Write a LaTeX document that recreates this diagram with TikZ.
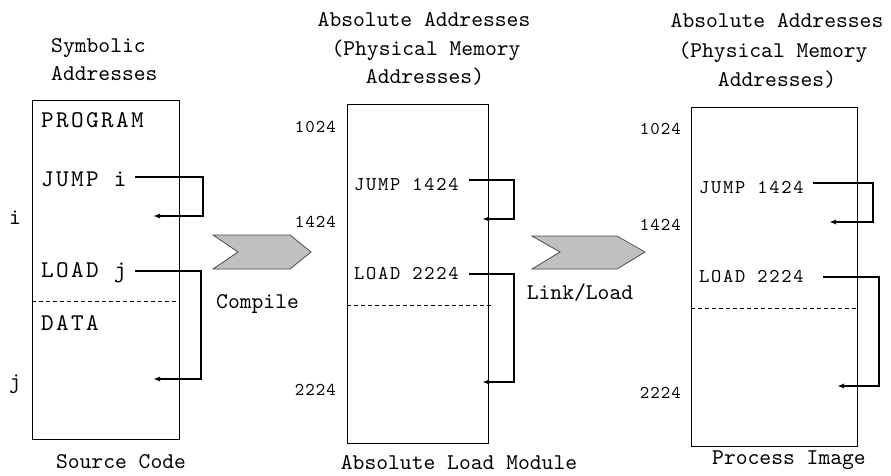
\documentclass[tikz,border=0pt]{standalone}
\usepackage{fontspec}
\usetikzlibrary{arrows.meta}
\newfontfamily\diagmono{lmmono10-regular.otf}
\newfontfamily\diagwide{lmmono10-regular.otf}[LetterSpace=10]
\newfontfamily\diagcode{lmmono10-regular.otf}[LetterSpace=9]
\newfontfamily\diagaddr{lmmono10-regular.otf}[LetterSpace=6]
\definecolor{chevgray}{RGB}{192,192,192}
\begin{document}
\begin{tikzpicture}[x=1pt,y=-1pt,
  title/.style={font=\diagmono\fontsize{22.5}{26}\selectfont, inner sep=0pt, anchor=base},
  titleleft/.style={title, anchor=base west},
  codeA/.style={font=\diagwide\fontsize{24}{28}\selectfont, inner sep=0pt, anchor=base west},
  codeB/.style={font=\diagcode\fontsize{19.5}{23}\selectfont, inner sep=0pt, anchor=base west},
  addr/.style={font=\diagaddr\fontsize{18}{21}\selectfont, inner sep=0pt, anchor=base east},
  mem/.style={draw, line width=1pt, inner sep=0pt, minimum height=339pt},
  split/.style={dashed, line width=0.9pt, dash pattern=on 4pt off 3pt},
  ref/.style={line width=1.6pt, -{Latex[length=7pt,width=5pt]}},
  chev/.style={draw=black!70, line width=0.8pt, fill=chevgray, line join=miter}]
\useasboundingbox (0,0) rectangle (891,475);

% ---- source code ----
\node[mem, minimum width=147pt] (srcbox) at (105.5,269.5) {};
\draw[split] (srcbox.west |- 0,301.7) -- (srcbox.east |- 0,301.7);
\node[titleleft] (symA) at (51,52) {Symbolic};
\node[titleleft] (symB) at (51,80) {Addresses};
\node[title] (srccap) at (121,468) {Source Code};
\node[codeA] (prog) at (41,127) {PROGRAM};
\node[codeA] (jmpi) at (41,186) {JUMP i};
\node[codeA] (ldj) at (41,277) {LOAD j};
\node[codeA] (data) at (41,330) {DATA};
\node[titleleft] (labi) at (9,224) {i};
\node[titleleft] (labj) at (9,388) {j};
\coordinate (s1) at (135,177); \coordinate (c1) at (203,216); \coordinate (t1) at (153,216);
\coordinate (s2) at (135,271); \coordinate (c2) at (201,379); \coordinate (t2) at (153,379);
\draw[ref] (s1) -| (c1) -- (t1);
\draw[ref] (s2) -| (c2) -- (t2);

% ---- compile step ----
\draw[chev] (213,235) -- (290,235) -- (311,252) -- (290,269) -- (213,269) -- (238,252) -- cycle;
\node[titleleft] (compile) at (216,308) {Compile};

% ---- absolute load module ----
\node[mem, minimum width=141pt] (loadbox) at (417.5,273.5) {};
\draw[split] (loadbox.west |- 0,305) -- ([xshift=2pt]loadbox.east |- 0,305);
\node[title] (absA) at (424,26) {Absolute Addresses};
\node[title] (absB) at (426,55) {(Physical Memory};
\node[title] (absC) at (425,83) {Addresses)};
\node[title] (loadcap) at (459,469) {Absolute Load Module};
\node[addr] (la1) at (336,132) {1024};
\node[addr] (la2) at (336,227) {1424};
\node[addr] (la3) at (336,395) {2224};
\node[codeB] (ljmp) at (354,190) {JUMP 1424};
\node[codeB] (lld) at (354,279) {LOAD 2224};
\coordinate (s3) at (469,180); \coordinate (c3) at (514,219); \coordinate (t3) at (482,219);
\coordinate (s4) at (469,274); \coordinate (c4) at (514,382); \coordinate (t4) at (482,382);
\draw[ref] (s3) -| (c3) -- (t3);
\draw[ref] (s4) -| (c4) -- (t4);

% ---- link / load step ----
\draw[chev] (532,236) -- (617,236) -- (645,252) -- (617,269) -- (532,269) -- (560,252) -- cycle;
\node[title] (linkload) at (580,299) {Link/Load};

% ---- process image ----
\node[mem, minimum width=166pt] (procbox) at (774,276.5) {};
\draw[split] (procbox.west |- 0,308) -- (procbox.east |- 0,308);
\node[title] (prA) at (777,27) {Absolute Addresses};
\node[title] (prB) at (773,57) {(Physical Memory};
\node[title] (prC) at (777,86) {Addresses)};
\node[title] (proccap) at (789,464) {Process Image};
\node[addr] (pa1) at (681,134) {1024};
\node[addr] (pa2) at (681,230) {1424};
\node[addr] (pa3) at (681,398) {2224};
\node[codeB] (pjmp) at (699,193) {JUMP 1424};
\node[codeB] (pld) at (699,282) {LOAD 2224};
\coordinate (s5) at (813,183); \coordinate (c5) at (873,222); \coordinate (t5) at (829,222);
\coordinate (s6) at (823,277); \coordinate (c6) at (879,386); \coordinate (t6) at (837,386);
\draw[ref] (s5) -| (c5) -- (t5);
\draw[ref] (s6) -| (c6) -- (t6);
\end{tikzpicture}
\end{document}
